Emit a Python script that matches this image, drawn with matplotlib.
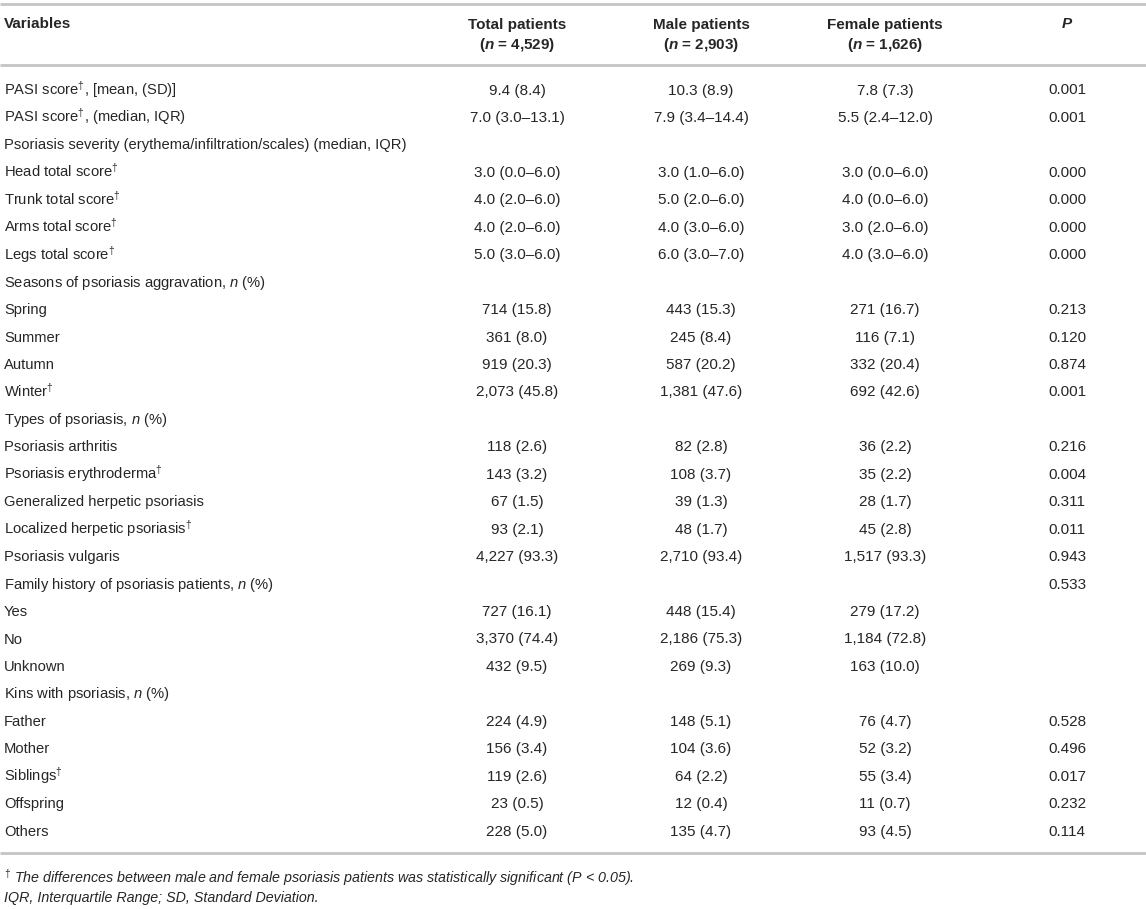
import matplotlib
matplotlib.use("Agg")
import matplotlib.pyplot as plt

plt.rcParams['font.family'] = ['Liberation Sans', 'DejaVu Sans']
plt.rcParams['mathtext.fontset'] = 'custom'
plt.rcParams['mathtext.rm'] = 'Liberation Sans'
plt.rcParams['mathtext.it'] = 'Liberation Sans:italic'
plt.rcParams['mathtext.bf'] = 'Liberation Sans:bold'
plt.rcParams['mathtext.bfit'] = 'Liberation Sans:italic:bold'

D = r"$^{\mathit{†}}$"
N = r"$\mathit{n}$"

headers = ["Variables", "Total patients", "Male patients", "Female patients", "P"]
header_n = ["", "4,529", "2,903", "1,626", ""]

variables = [
    "PASI score" + D + ", [mean, (SD)]",
    "PASI score" + D + ", (median, IQR)",
    "Psoriasis severity (erythema/infiltration/scales) (median, IQR)",
    "Head total score" + D,
    "Trunk total score" + D,
    "Arms total score" + D,
    "Legs total score" + D,
    "Seasons of psoriasis aggravation, " + N + " (%)",
    "Spring",
    "Summer",
    "Autumn",
    "Winter" + D,
    "Types of psoriasis, " + N + " (%)",
    "Psoriasis arthritis",
    "Psoriasis erythroderma" + D,
    "Generalized herpetic psoriasis",
    "Localized herpetic psoriasis" + D,
    "Psoriasis vulgaris",
    "Family history of psoriasis patients, " + N + " (%)",
    "Yes",
    "No",
    "Unknown",
    "Kins with psoriasis, " + N + " (%)",
    "Father",
    "Mother",
    "Siblings" + D,
    "Offspring",
    "Others",
]
total = ["9.4 (8.4)", "7.0 (3.0–13.1)", "", "3.0 (0.0–6.0)", "4.0 (2.0–6.0)",
         "4.0 (2.0–6.0)", "5.0 (3.0–6.0)", "", "714 (15.8)", "361 (8.0)",
         "919 (20.3)", "2,073 (45.8)", "", "118 (2.6)", "143 (3.2)", "67 (1.5)",
         "93 (2.1)", "4,227 (93.3)", "", "727 (16.1)", "3,370 (74.4)", "432 (9.5)",
         "", "224 (4.9)", "156 (3.4)", "119 (2.6)", "23 (0.5)", "228 (5.0)"]
male = ["10.3 (8.9)", "7.9 (3.4–14.4)", "", "3.0 (1.0–6.0)", "5.0 (2.0–6.0)",
        "4.0 (3.0–6.0)", "6.0 (3.0–7.0)", "", "443 (15.3)", "245 (8.4)",
        "587 (20.2)", "1,381 (47.6)", "", "82 (2.8)", "108 (3.7)", "39 (1.3)",
        "48 (1.7)", "2,710 (93.4)", "", "448 (15.4)", "2,186 (75.3)", "269 (9.3)",
        "", "148 (5.1)", "104 (3.6)", "64 (2.2)", "12 (0.4)", "135 (4.7)"]
female = ["7.8 (7.3)", "5.5 (2.4–12.0)", "", "3.0 (0.0–6.0)", "4.0 (0.0–6.0)",
          "3.0 (2.0–6.0)", "4.0 (3.0–6.0)", "", "271 (16.7)", "116 (7.1)",
          "332 (20.4)", "692 (42.6)", "", "36 (2.2)", "35 (2.2)", "28 (1.7)",
          "45 (2.8)", "1,517 (93.3)", "", "279 (17.2)", "1,184 (72.8)", "163 (10.0)",
          "", "76 (4.7)", "52 (3.2)", "55 (3.4)", "11 (0.7)", "93 (4.5)"]
pvals = ["0.001", "0.001", "", "0.000", "0.000", "0.000", "0.000", "", "0.213",
         "0.120", "0.874", "0.001", "", "0.216", "0.004", "0.311", "0.011", "0.943",
         "0.533", "", "", "", "", "0.528", "0.496", "0.017", "0.232", "0.114"]

footnotes = [
    r"$^{\mathit{†}}$ The differences between male and female psoriasis patients was statistically significant (P < 0.05).",
    "IQR, Interquartile Range; SD, Standard Deviation.",
]

W, H = 1146, 909
fig = plt.figure(figsize=(W / 100, H / 100), dpi=100)
ax = fig.add_axes([0, 0, 1, 1])
ax.set_xlim(0, W)
ax.set_ylim(H, 0)
ax.axis('off')

txt = '#262626'
line = '#c4c4c4'
fs_lab = 10.6
fs_num = 11
fs_head = 11
fs_foot = 10.3

col_x = [4, 517, 701, 885, 1067]

# rules
for y in (4, 65, 853):
    ax.plot([0, W], [y, y], color=line, lw=2, solid_capstyle='butt')

# header
ax.text(col_x[0], 28.5, headers[0], fontsize=fs_head, fontweight='bold', color=txt,
        ha='left', va='baseline')
for i in range(1, 4):
    ax.text(col_x[i], 28.5, headers[i], fontsize=fs_head, fontweight='bold', color=txt,
            ha='center', va='baseline')
    ax.text(col_x[i], 49.5, "(" + r"$\mathbfit{n}$" + " = " + header_n[i] + ")",
            fontsize=fs_head, fontweight='bold', color=txt, ha='center', va='baseline')
ax.text(col_x[4], 28.5, headers[4], fontsize=fs_head, fontweight='bold', fontstyle='italic',
        color=txt, ha='center', va='baseline')

y0, dy = 94.5, 27.45
for r, v in enumerate(variables):
    y = y0 + r * dy
    ax.text(col_x[0], y, v, fontsize=fs_lab, color=txt, ha='left', va='baseline')
    for c, col in zip(range(1, 5), (total, male, female, pvals)):
        if col[r]:
            ax.text(col_x[c], y, col[r], fontsize=fs_num, color=txt,
                    ha='center', va='baseline')

ax.text(col_x[0], 882.5, footnotes[0], fontsize=fs_foot, fontstyle='italic', color=txt,
        ha='left', va='baseline')
ax.text(col_x[0], 902, footnotes[1], fontsize=fs_foot, fontstyle='italic', color=txt,
        ha='left', va='baseline')

fig.savefig("out.png", dpi=100)
